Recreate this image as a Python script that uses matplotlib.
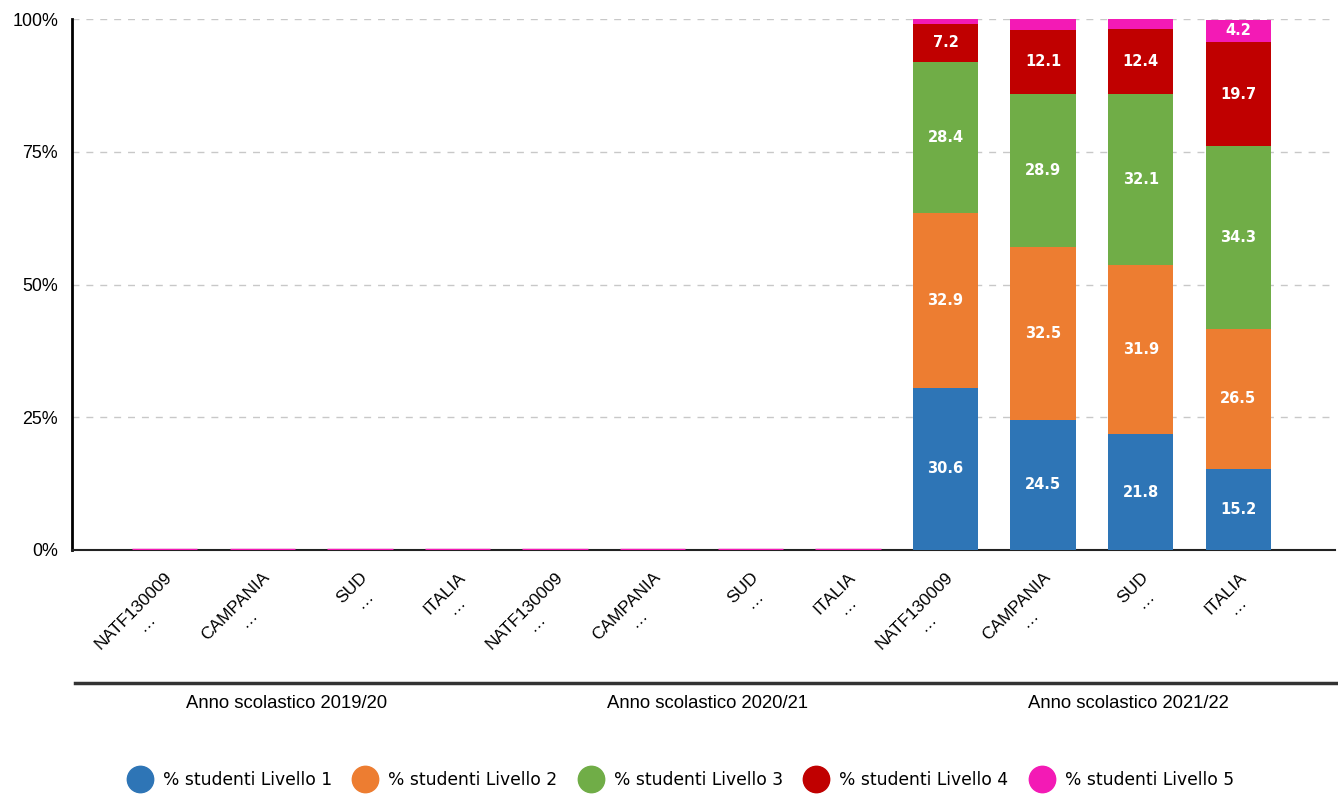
import matplotlib
matplotlib.use("Agg")
import matplotlib.pyplot as plt
from matplotlib.lines import Line2D
import numpy as np

categories = ["NATF130009", "CAMPANIA", "SUD", "ITALIA"] * 3
years = ["Anno scolastico 2019/20", "Anno scolastico 2020/21", "Anno scolastico 2021/22"]
series_names = ["% studenti Livello 1", "% studenti Livello 2", "% studenti Livello 3",
                "% studenti Livello 4", "% studenti Livello 5"]
livello1 = [0, 0, 0, 0, 0, 0, 0, 0, 30.6, 24.5, 21.8, 15.2]
livello2 = [0, 0, 0, 0, 0, 0, 0, 0, 32.9, 32.5, 31.9, 26.5]
livello3 = [0, 0, 0, 0, 0, 0, 0, 0, 28.4, 28.9, 32.1, 34.3]
livello4 = [0, 0, 0, 0, 0, 0, 0, 0, 7.2, 12.1, 12.4, 19.7]
livello5 = [0, 0, 0, 0, 0, 0, 0, 0, 0.9, 2.0, 1.8, 4.2]
colors = ["#2E75B6", "#ED7D31", "#70AD47", "#C00000", "#F31AB5"]

plt.rcParams["font.family"] = ["Liberation Sans", "DejaVu Sans"]

fig = plt.figure(figsize=(13.38, 7.97), dpi=100)
ax = fig.add_axes([72 / 1338, 1 - 550 / 797, 1263 / 1338, 531 / 797])

x = np.arange(len(categories))
width = 0.67
bottom = np.zeros(len(categories))
for name, vals, col in zip(series_names, [livello1, livello2, livello3, livello4, livello5], colors):
    vals = np.array(vals, dtype=float)
    ax.bar(x, vals, width, bottom=bottom, color=col, label=name, zorder=3)
    for xi, v, b in zip(x, vals, bottom):
        if v >= 3:
            ax.text(xi, b + v / 2, f"{v:.1f}", ha="center", va="center", color="white",
                    fontsize=10.5, fontweight="bold", family="DejaVu Sans", zorder=4)
    bottom += vals

# empty years: zero-height bars show only a magenta stroke on the baseline
empty = bottom == 0
ax.hlines(np.zeros(empty.sum()), x[empty] - width / 2, x[empty] + width / 2,
          color=colors[4], lw=2.5, zorder=4)

ax.set_xlim(-0.95, 11.99)
ax.set_ylim(0, 100)
ax.set_yticks([0, 25, 50, 75, 100])
ax.set_yticklabels(["0%", "25%", "50%", "75%", "100%"], fontsize=12.9)
ax.set_yticks([0, 100], minor=True)
ax.tick_params(axis="y", which="major", length=0, pad=10)
ax.tick_params(axis="y", which="minor", length=8, width=2, color="black")
ax.yaxis.grid(True, linestyle=(0, (5, 5)), color="#c8c8c8", lw=1, zorder=0)

ax.set_xticks(x)
ax.set_xticklabels([c + "\n…" for c in categories], rotation=45, ha="right",
                   rotation_mode="anchor", multialignment="center", fontsize=12.5)
ax.tick_params(axis="x", length=0, pad=14)

for s in ["top", "right"]:
    ax.spines[s].set_visible(False)
ax.spines["left"].set_linewidth(2)
ax.spines["bottom"].set_linewidth(1.5)
ax.spines["bottom"].set_color("#222222")

# group separator and year labels
fig.add_artist(Line2D([75 / 1338, 1.0], [1 - 683 / 797] * 2, color="#333333", lw=2.5))
for i, yr in enumerate(years):
    fig.text((72 + 1263 * (2 * i + 1) / 6 + 4) / 1338, 1 - 704 / 797, yr,
             ha="center", va="center", fontsize=13.3)

handles = [Line2D([], [], marker="o", ls="", markersize=19, color=c) for c in colors]
fig.legend(handles, series_names, loc="center", bbox_to_anchor=(0.507, 1 - 780 / 797),
           ncol=5, frameon=False, prop={"family": "DejaVu Sans", "size": 12.3},
           handletextpad=0.35, columnspacing=0.95)

fig.savefig("out.png", dpi=100)
